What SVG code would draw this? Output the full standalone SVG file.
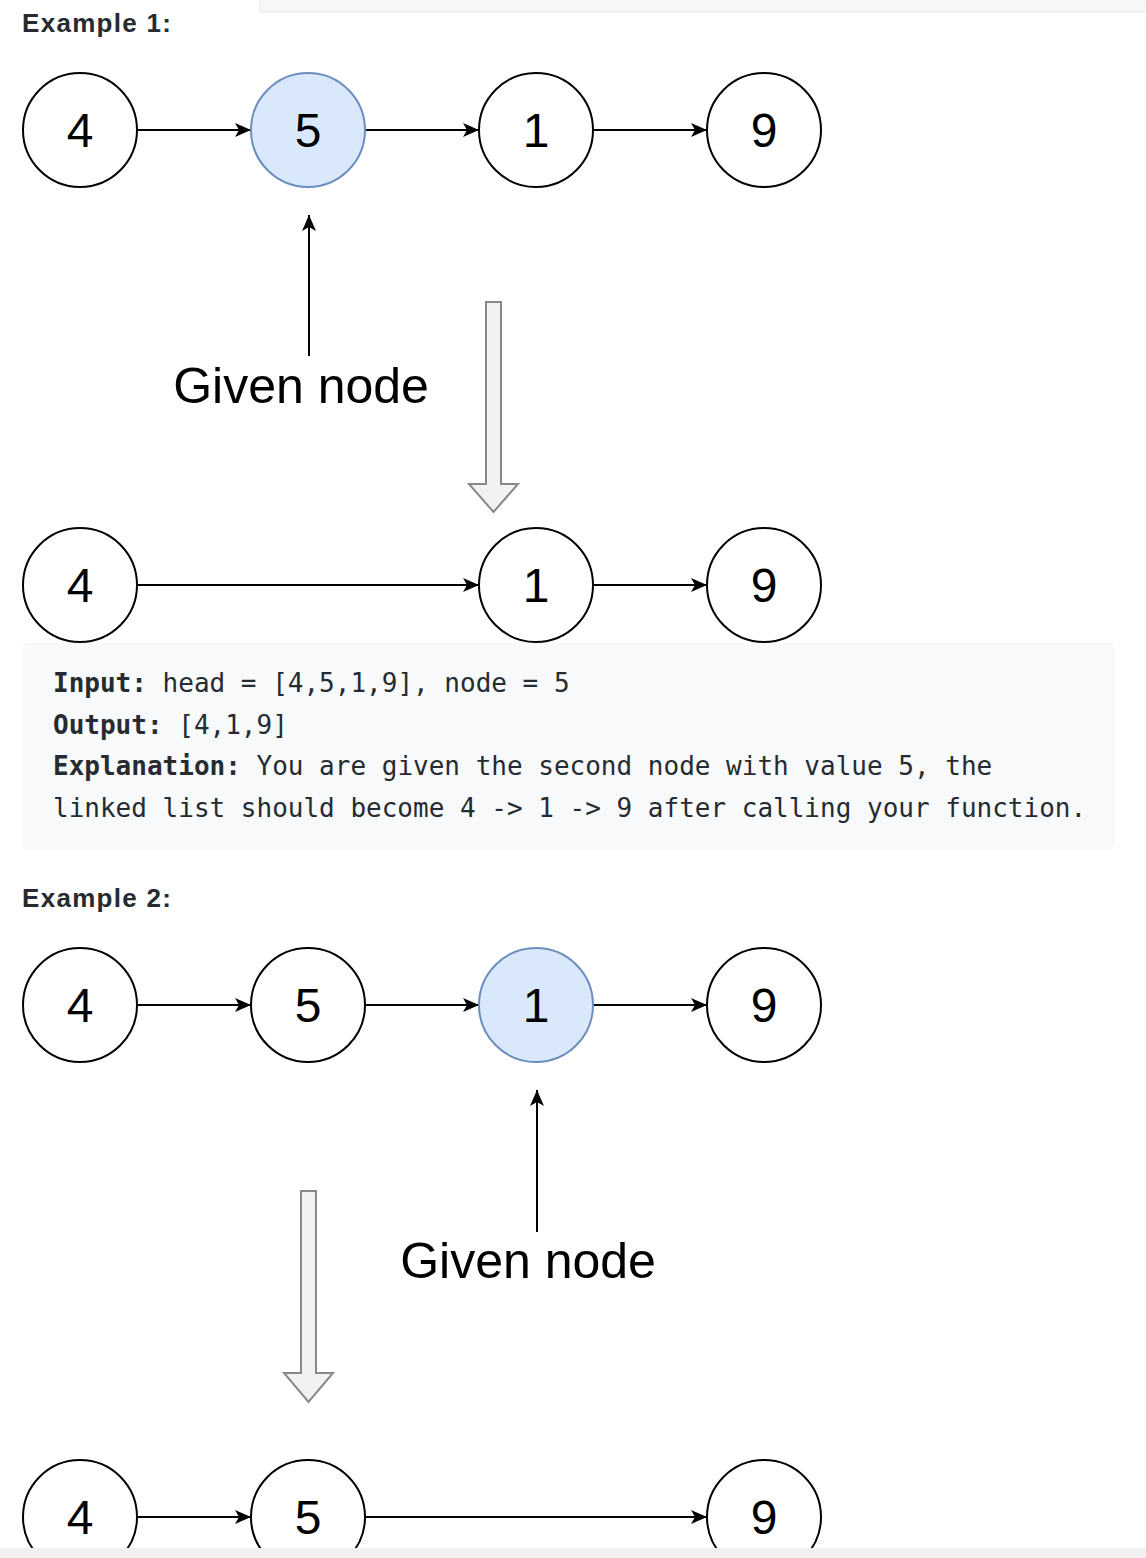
<svg xmlns="http://www.w3.org/2000/svg" width="1146" height="1558" viewBox="0 0 1146 1558">
<defs>
<style>
.node{fill:#ffffff;stroke:#000000;stroke-width:2}
.sel{fill:#dae8fc;stroke:#6c8ebf;stroke-width:2}
.num{font-family:"Liberation Sans",Arial,sans-serif;font-size:48px;fill:#000000;text-anchor:middle}
.edge{stroke:#000000;stroke-width:2;fill:none}
.big{fill:#f2f2f2;stroke:#888888;stroke-width:2}
.lbl{font-family:"Liberation Sans",Arial,sans-serif;font-size:50px;fill:#000000;text-anchor:middle}
.head{font-family:"Liberation Sans",Arial,sans-serif;font-size:26px;font-weight:bold;letter-spacing:1.3px;fill:#262b31}
.code{font-family:"DejaVu Sans Mono",monospace;font-size:26px;fill:#262b31}
.b{font-weight:bold}
</style>
<marker id="arr" markerUnits="userSpaceOnUse" markerWidth="17" markerHeight="16" refX="16" refY="8" orient="auto">
<path d="M0,1 L16,8 L0,15 L4,8 z" fill="#000000"/>
</marker>
</defs>
<rect x="0" y="0" width="1146" height="1558" fill="#ffffff"/>
<rect x="260" y="-1" width="887" height="13" fill="#f7f7f7" stroke="#e8e8e8" stroke-width="1"/>

<text class="head" x="22" y="32">Example 1:</text>

<g id="connectors">
<line class="edge" x1="138" y1="130" x2="251" y2="130" marker-end="url(#arr)"/>
<line class="edge" x1="366" y1="130" x2="479" y2="130" marker-end="url(#arr)"/>
<line class="edge" x1="594" y1="130" x2="707" y2="130" marker-end="url(#arr)"/>
<line class="edge" x1="309" y1="356" x2="309" y2="215" marker-end="url(#arr)"/>
<line class="edge" x1="138" y1="585" x2="479" y2="585" marker-end="url(#arr)"/>
<line class="edge" x1="594" y1="585" x2="707" y2="585" marker-end="url(#arr)"/>
<line class="edge" x1="138" y1="1005" x2="251" y2="1005" marker-end="url(#arr)"/>
<line class="edge" x1="366" y1="1005" x2="479" y2="1005" marker-end="url(#arr)"/>
<line class="edge" x1="594" y1="1005" x2="707" y2="1005" marker-end="url(#arr)"/>
<line class="edge" x1="537" y1="1232" x2="537" y2="1090" marker-end="url(#arr)"/>
<line class="edge" x1="138" y1="1517" x2="251" y2="1517" marker-end="url(#arr)"/>
<line class="edge" x1="366" y1="1517" x2="707" y2="1517" marker-end="url(#arr)"/>
<path id="bigarrow1" class="big" d="M486,302 L501,302 L501,484 L518,484 L493.5,512 L469,484 L486,484 Z"/>
<path id="bigarrow2" class="big" d="M301,1191 L316,1191 L316,1373 L333,1373 L308.5,1402 L284,1373 L301,1373 Z"/>
</g>

<g id="ex1-a-4"><circle class="node" cx="80" cy="130" r="57"/><text class="num" x="80" y="147">4</text></g>
<g id="ex1-a-5"><circle class="sel" cx="308" cy="130" r="57"/><text class="num" x="308" y="147">5</text></g>
<g id="ex1-a-1"><circle class="node" cx="536" cy="130" r="57"/><text class="num" x="536" y="147">1</text></g>
<g id="ex1-a-9"><circle class="node" cx="764" cy="130" r="57"/><text class="num" x="764" y="147">9</text></g>
<g id="ex1-label"><text class="lbl" x="301" y="403">Given node</text></g>

<g id="ex1-b-4"><circle class="node" cx="80" cy="585" r="57"/><text class="num" x="80" y="602">4</text></g>
<g id="ex1-b-1"><circle class="node" cx="536" cy="585" r="57"/><text class="num" x="536" y="602">1</text></g>
<g id="ex1-b-9"><circle class="node" cx="764" cy="585" r="57"/><text class="num" x="764" y="602">9</text></g>

<g id="codeblock">
<rect x="22" y="643" width="1093" height="206" rx="6" fill="#f7f9fa"/>
<text class="code" x="53" y="692"><tspan class="b">Input:</tspan> head = [4,5,1,9], node = 5</text>
<text class="code" x="53" y="734"><tspan class="b">Output:</tspan> [4,1,9]</text>
<text class="code" x="53" y="775"><tspan class="b">Explanation:</tspan> You are given the second node with value 5, the</text>
<text class="code" x="53" y="817">linked list should become 4 -&gt; 1 -&gt; 9 after calling your function.</text>
</g>

<text class="head" x="22" y="907">Example 2:</text>

<g id="ex2-a-4"><circle class="node" cx="80" cy="1005" r="57"/><text class="num" x="80" y="1022">4</text></g>
<g id="ex2-a-5"><circle class="node" cx="308" cy="1005" r="57"/><text class="num" x="308" y="1022">5</text></g>
<g id="ex2-a-1"><circle class="sel" cx="536" cy="1005" r="57"/><text class="num" x="536" y="1022">1</text></g>
<g id="ex2-a-9"><circle class="node" cx="764" cy="1005" r="57"/><text class="num" x="764" y="1022">9</text></g>
<g id="ex2-label"><text class="lbl" x="528" y="1278">Given node</text></g>

<g id="ex2-b-4"><circle class="node" cx="80" cy="1517" r="57"/><text class="num" x="80" y="1534">4</text></g>
<g id="ex2-b-5"><circle class="node" cx="308" cy="1517" r="57"/><text class="num" x="308" y="1534">5</text></g>
<g id="ex2-b-9"><circle class="node" cx="764" cy="1517" r="57"/><text class="num" x="764" y="1534">9</text></g>
<rect x="0" y="1548" width="1146" height="10" fill="#f0f0f0"/>
</svg>
